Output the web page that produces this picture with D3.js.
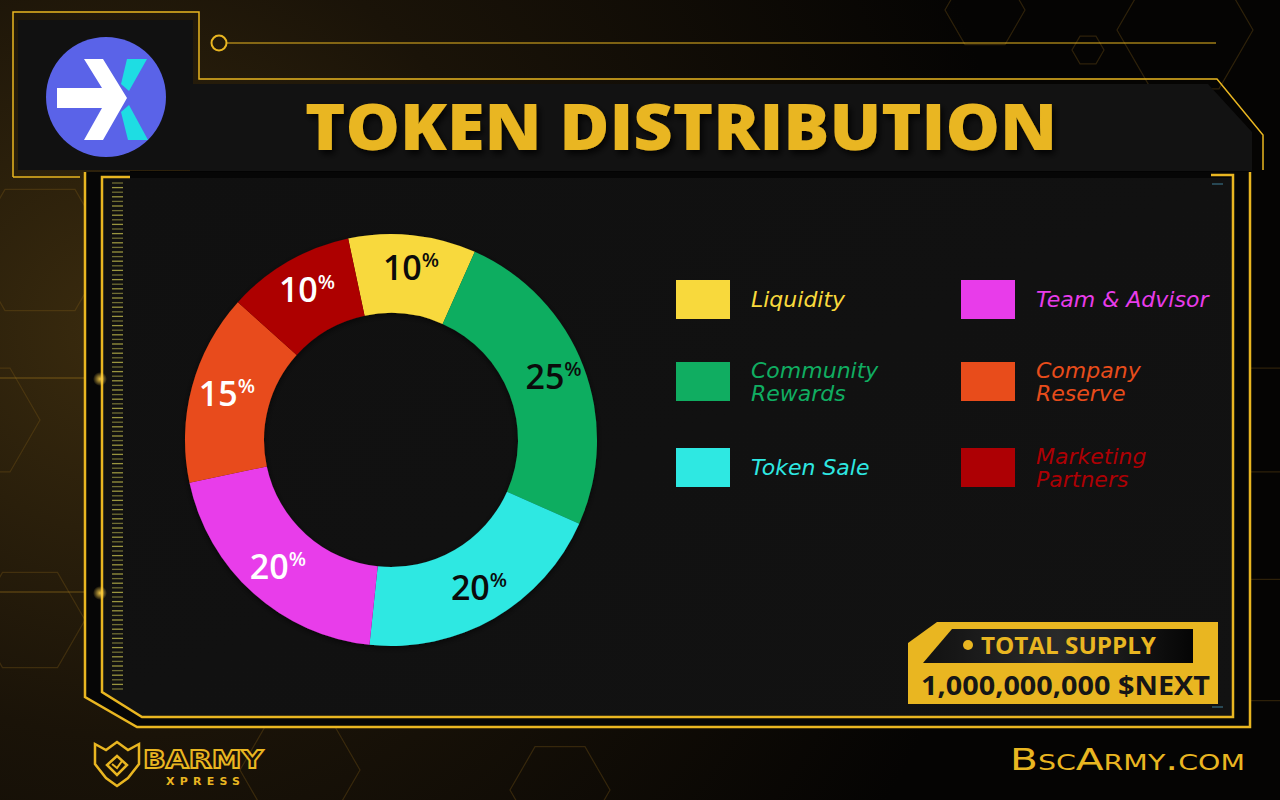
<!DOCTYPE html>
<html>
<head>
<meta charset="utf-8">
<script src="https://cdn.jsdelivr.net/npm/d3@7/dist/d3.min.js"></script>
<style>
  html, body { margin: 0; padding: 0; background: #070605; }
  svg { display: block; }
</style>
</head>
<body>
<svg id="chart" width="1280" height="800"></svg>
<script>
// ---------- DATA ----------
const categories = ["Liquidity", "Community Rewards", "Token Sale", "Team & Advisor", "Company Reserve", "Marketing Partners"];
const legendLines = [["Liquidity"], ["Community", "Rewards"], ["Token Sale"], ["Team & Advisor"], ["Company", "Reserve"], ["Marketing", "Partners"]];
const values = [10, 25, 20, 20, 15, 10];
const sliceColors = ["#F8D93C", "#10AD61", "#2EE8E2", "#E83CEA", "#E84C1B", "#AD0004"];
const labelColors = ["#0b0b0b", "#0b0b0b", "#0b0b0b", "#ffffff", "#ffffff", "#ffffff"];
const titleText = "TOKEN DISTRIBUTION";
const supplyLabel = "TOTAL SUPPLY";
const supplyValue = "1,000,000,000 $NEXT";
const siteText = "BscArmy.com";

const GOLD = "#E9B621";
const svg = d3.select("#chart");
const defs = svg.append("defs");

// ---------- BACKGROUND ----------
const bg = defs.append("radialGradient").attr("id", "bgGrad")
  .attr("cx", 120).attr("cy", 330).attr("r", 900).attr("gradientUnits", "userSpaceOnUse");
bg.append("stop").attr("offset", 0).attr("stop-color", "#3a2b0e");
bg.append("stop").attr("offset", 0.45).attr("stop-color", "#1a1308");
bg.append("stop").attr("offset", 1).attr("stop-color", "#050403");
svg.append("rect").attr("width", 1280).attr("height", 800).attr("fill", "url(#bgGrad)");

const glow = defs.append("radialGradient").attr("id", "glowGrad");
glow.append("stop").attr("offset", 0).attr("stop-color", "#ffd24a").attr("stop-opacity", 0.9);
glow.append("stop").attr("offset", 1).attr("stop-color", "#ffd24a").attr("stop-opacity", 0);

// faint hexagons
const hexes = [[1185, 30, 68], [1088, 50, 16], [985, 10, 40], [40, 250, 70], [-20, 420, 60], [30, 620, 55], [1260, 420, 60], [1250, 640, 70], [300, 770, 60], [560, 790, 50]];
const hexPath = (cx, cy, r) => d3.range(6).map(k => {
  const a = Math.PI / 3 * k;
  return [cx + r * Math.cos(a), cy + r * Math.sin(a)];
});
svg.append("g").selectAll("path").data(hexes).join("path")
  .attr("d", d => "M" + hexPath(d[0], d[1], d[2]).join("L") + "Z")
  .attr("fill", "none").attr("stroke", "#7a5a18").attr("stroke-opacity", 0.35).attr("stroke-width", 1.2);

[[0, 378, 100], [0, 592, 100]].forEach(s => {
  svg.append("line").attr("x1", s[0]).attr("x2", s[2]).attr("y1", s[1]).attr("y2", s[1])
    .attr("stroke", "#b88a22").attr("stroke-opacity", 0.5).attr("stroke-width", 1);
});

// ---------- HEADER ----------
svg.append("rect").attr("x", 18).attr("y", 20).attr("width", 175).attr("height", 150).attr("fill", "#111111");
svg.append("path").attr("d", "M190,84 L1208,84 L1252,132 L1252,172 L190,172 Z").attr("fill", "#121212");
svg.append("rect").attr("x", 130).attr("y", 171).attr("width", 1122).attr("height", 7).attr("fill", "#030303");
svg.append("path").attr("d", "M13,177 L13,12 L199,12 L199,79 L1217,79 L1263,135 L1263,170")
  .attr("fill", "none").attr("stroke", GOLD).attr("stroke-width", 1.5);
svg.append("line").attr("x1", 13).attr("x2", 80).attr("y1", 177).attr("y2", 177).attr("stroke", GOLD).attr("stroke-width", 1.5);
svg.append("circle").attr("cx", 219).attr("cy", 43).attr("r", 7.5).attr("fill", "none").attr("stroke", GOLD).attr("stroke-width", 2);
svg.append("line").attr("x1", 227).attr("x2", 1216).attr("y1", 43).attr("y2", 43).attr("stroke", GOLD).attr("stroke-width", 1.2);

// logo
svg.append("circle").attr("cx", 106).attr("cy", 97).attr("r", 60).attr("fill", "#5A63E8");
svg.append("path").attr("d", "M84,59 L103,59 L127,98 L103,140 L84,140 L102,108 L57,108 L57,88 L102,88 Z").attr("fill", "#ffffff");
svg.append("path").attr("d", "M127,59 L147,59 L129,91 L121,84 Z").attr("fill", "#1EDDE3");
svg.append("path").attr("d", "M121,112 L129,105 L148,140 L128,140 Z").attr("fill", "#1EDDE3");

// title
const tshadow = defs.append("filter").attr("id", "tshadow").attr("x", "-10%").attr("y", "-30%").attr("width", "120%").attr("height", "160%");
tshadow.append("feDropShadow").attr("dx", 3).attr("dy", 4).attr("stdDeviation", 3).attr("flood-color", "#000").attr("flood-opacity", 0.8);
svg.append("text").attr("x", 681).attr("y", 150).attr("text-anchor", "middle")
  .attr("font-family", "'Open Sans', sans-serif").attr("font-weight", 800).attr("font-size", 63)
  .attr("textLength", 752).attr("lengthAdjust", "spacingAndGlyphs")
  .attr("fill", GOLD).attr("filter", "url(#tshadow)").text(titleText);

// ---------- MAIN FRAME ----------
svg.append("path").attr("d", "M85,172 L1250,172 L1250,727 L137,727 L85,697 Z").attr("fill", "#060606");
const panelGrad = defs.append("linearGradient").attr("id", "panelGrad").attr("x1", 0).attr("y1", 0).attr("x2", 1).attr("y2", 1);
panelGrad.append("stop").attr("offset", 0).attr("stop-color", "#101010");
panelGrad.append("stop").attr("offset", 1).attr("stop-color", "#121212");
svg.append("path").attr("d", "M102,178 L1233,178 L1233,717 L142,717 L102,692 Z").attr("fill", "url(#panelGrad)");
svg.append("path").attr("d", "M85,172 L85,697 L137,727 L1250,727 L1250,172")
  .attr("fill", "none").attr("stroke", GOLD).attr("stroke-width", 2.5);
svg.append("path").attr("d", "M130,177 L102,177 L102,692 L142,717 L1233,717 L1233,175 L1211,175")
  .attr("fill", "none").attr("stroke", GOLD).attr("stroke-width", 2.5);
svg.append("g").selectAll("line").data(d3.range(183, 689, 4.6)).join("line")
  .attr("x1", 112).attr("x2", 123).attr("y1", d => d).attr("y2", d => d)
  .attr("stroke", (d, i) => i % 2 ? "#9a953f" : "#706d33").attr("stroke-width", 1.3);
svg.append("line").attr("x1", 1212).attr("x2", 1223).attr("y1", 184).attr("y2", 184).attr("stroke", "#3f7f97").attr("stroke-width", 1);
svg.append("line").attr("x1", 1212).attr("x2", 1223).attr("y1", 707).attr("y2", 707).attr("stroke", "#3f7f97").attr("stroke-width", 1);
[[100, 379], [100, 593]].forEach(p => {
  svg.append("circle").attr("cx", p[0]).attr("cy", p[1]).attr("r", 7).attr("fill", "url(#glowGrad)");
});

// ---------- DONUT ----------
const cx = 391, cy = 440, rOuter = 206, rInner = 127, rLabel = 172;
const startA = -12 * Math.PI / 180;
const pie = d3.pie().sort(null).value(d => d.value).startAngle(startA).endAngle(startA + 2 * Math.PI);
const data = categories.map((c, i) => ({ name: c, value: values[i], color: sliceColors[i], label: labelColors[i] }));
const arcs = pie(data);
const arc = d3.arc().innerRadius(rInner).outerRadius(rOuter);
const labelArc = d3.arc().innerRadius(rLabel).outerRadius(rLabel);

const dshadow = defs.append("filter").attr("id", "dshadow").attr("x", "-20%").attr("y", "-20%").attr("width", "140%").attr("height", "140%");
dshadow.append("feDropShadow").attr("dx", 0).attr("dy", 2).attr("stdDeviation", 3).attr("flood-color", "#000").attr("flood-opacity", 0.6);

const g = svg.append("g").attr("transform", `translate(${cx},${cy})`);
g.append("g").attr("filter", "url(#dshadow)").selectAll("path").data(arcs).join("path")
  .attr("d", arc).attr("fill", d => d.data.color);

const labels = g.append("g").selectAll("text").data(arcs).join("text")
  .attr("transform", d => { const c = labelArc.centroid(d); return `translate(${c[0] + 2},${c[1] + 11})`; })
  .attr("text-anchor", "middle")
  .attr("font-family", "'Open Sans', sans-serif").attr("font-weight", 600)
  .attr("fill", d => d.data.label);
labels.append("tspan").attr("font-size", 34).text(d => d.data.value);
labels.append("tspan").attr("font-size", 20).attr("dy", -13).text("%");

// ---------- LEGEND ----------
const colX = [676, 961], rowY = [280, 362, 448];
const leg = svg.append("g").selectAll("g").data(data).join("g")
  .attr("transform", (d, i) => `translate(${colX[Math.floor(i / 3)]},${rowY[i % 3]})`);
leg.append("rect").attr("width", 54).attr("height", 39).attr("fill", d => d.color);
leg.append("text")
  .attr("font-family", "'DejaVu Sans', sans-serif").attr("font-style", "oblique").attr("font-weight", 400)
  .attr("font-size", 22).attr("fill", d => d.color)
  .each(function (d, i) {
    const lines = legendLines[i];
    const t = d3.select(this);
    lines.forEach((ln, k) => {
      const y = 19.5 + (k - (lines.length - 1) / 2) * 23 + 7.5;
      t.append("tspan").attr("x", 75).attr("y", y).text(ln);
    });
  });

// ---------- TOTAL SUPPLY ----------
svg.append("path").attr("d", "M908,643 L937,622 L1218,622 L1218,704 L908,704 Z").attr("fill", GOLD);
const stripGrad = defs.append("linearGradient").attr("id", "stripGrad").attr("x1", 0).attr("x2", 1);
stripGrad.append("stop").attr("offset", 0).attr("stop-color", "#111");
stripGrad.append("stop").attr("offset", 0.5).attr("stop-color", "#2a2a2a");
stripGrad.append("stop").attr("offset", 1).attr("stop-color", "#050505");
svg.append("path").attr("d", "M923,663 L952,629 L1193,629 L1193,663 Z").attr("fill", "url(#stripGrad)");
svg.append("circle").attr("cx", 968).attr("cy", 645).attr("r", 5).attr("fill", GOLD);
svg.append("text").attr("x", 981).attr("y", 654)
  .attr("font-family", "'Open Sans', sans-serif").attr("font-weight", 700).attr("font-size", 23)
  .attr("textLength", 175).attr("lengthAdjust", "spacingAndGlyphs")
  .attr("fill", GOLD).text(supplyLabel);
svg.append("text").attr("x", 921).attr("y", 695)
  .attr("font-family", "'Open Sans', sans-serif").attr("font-weight", 700).attr("font-size", 27)
  .attr("textLength", 289).attr("lengthAdjust", "spacingAndGlyphs")
  .attr("fill", "#161616").text(supplyValue);

// ---------- FOOTER ----------
svg.append("text").attr("x", 1010).attr("y", 770)
  .attr("font-family", "'DejaVu Sans', sans-serif").attr("font-weight", 400).attr("font-size", 30)
  .attr("font-variant", "small-caps").attr("textLength", 235).attr("lengthAdjust", "spacingAndGlyphs")
  .attr("fill", GOLD).text(siteText);

const lg = svg.append("g");
lg.append("path").attr("d", "M95,744 L106,750 L117,742 L128,750 L139,744 L139,764 L128,778 L117,786 L106,778 L95,764 Z")
  .attr("fill", "none").attr("stroke", GOLD).attr("stroke-width", 2.5);
lg.append("path").attr("d", "M117,756 L127,765 L117,775 L107,765 Z")
  .attr("fill", "none").attr("stroke", GOLD).attr("stroke-width", 2.5);
lg.append("path").attr("d", "M112,764 L117,768 L122,761").attr("fill", "none").attr("stroke", GOLD).attr("stroke-width", 2);
lg.append("text").attr("x", 143).attr("y", 768)
  .attr("font-family", "'DejaVu Sans', sans-serif").attr("font-weight", 700).attr("font-size", 25)
  .attr("textLength", 120).attr("lengthAdjust", "spacingAndGlyphs")
  .attr("fill", "none").attr("stroke", GOLD).attr("stroke-width", 1.8).text("BARMY");
lg.append("text").attr("x", 166).attr("y", 785)
  .attr("font-family", "'DejaVu Sans', sans-serif").attr("font-weight", 700).attr("font-size", 11)
  .attr("textLength", 74).attr("lengthAdjust", "spacing")
  .attr("fill", GOLD).text("XPRESS");
</script>
</body>
</html>
